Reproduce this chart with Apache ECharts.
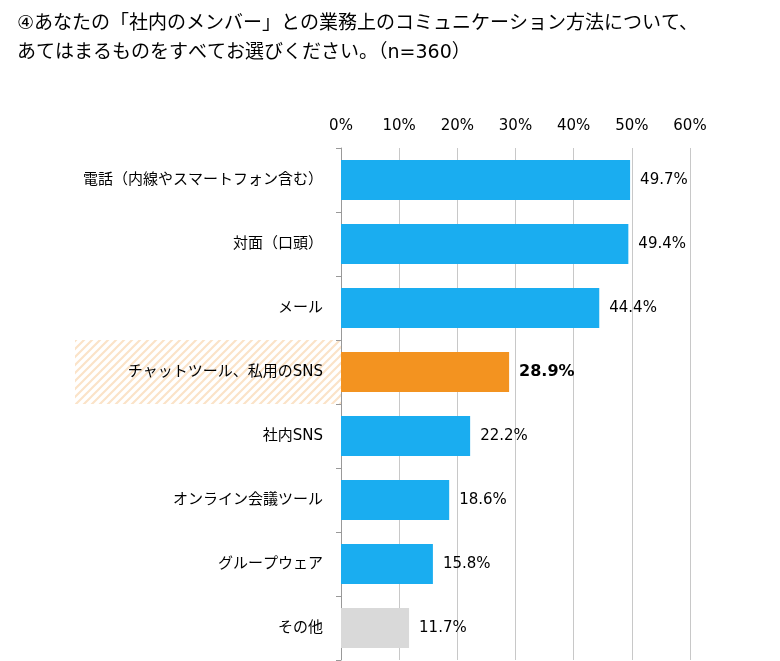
<!DOCTYPE html>
<html><head><meta charset="utf-8">
<script src="https://cdn.jsdelivr.net/npm/echarts@6/dist/echarts.min.js"></script>
<style>body{margin:0}#c{width:780px;height:661px}</style></head>
<body><div id="c"></div>
<script>
const titleText = '④あなたの「社内のメンバー」との業務上のコミュニケーション方法について、\nあてはまるものをすべてお選びください。（n=360）'
const categories = ['電話（内線やスマートフォン含む）', '対面（口頭）', 'メール', 'チャットツール、私用のSNS', '社内SNS', 'オンライン会議ツール', 'グループウェア', 'その他']
const values = [49.7, 49.4, 44.4, 28.9, 22.2, 18.6, 15.8, 11.7]
const highlight = 3
const font = '"DejaVu Sans", "Noto Sans CJK JP", sans-serif'

function barColor (i) {
  if (i === highlight) return '#f39320'
  if (i === categories.length - 1) return '#d9d9d9'
  return '#1aadf0'
}

// hatch pattern
const pc = document.createElement('canvas')
pc.width = 8; pc.height = 8
const px = pc.getContext('2d')
px.fillStyle = '#fff'; px.fillRect(0, 0, 8, 8)
px.strokeStyle = '#fbe3c8'; px.lineWidth = 2.2
px.beginPath()
px.moveTo(-2, 10); px.lineTo(10, -2)
px.moveTo(-2, 2); px.lineTo(2, -2)
px.moveTo(6, 10); px.lineTo(10, 6)
px.stroke()

const chart = echarts.init(document.getElementById('c'))
chart.setOption({
  animation: false,
  title: {
    text: titleText, left: 12, top: 5,
    textStyle: { fontFamily: font, fontSize: 19, fontWeight: 'normal', color: '#000', lineHeight: 29 }
  },
  grid: { left: 341, right: 90, top: 148, bottom: 1 },
  xAxis: {
    type: 'value', position: 'top', min: 0, max: 60, interval: 10,
    axisLabel: { formatter: '{value}%', fontFamily: font, fontSize: 15, color: '#000', margin: 14 },
    splitLine: { lineStyle: { color: '#c8c8c8' } },
    axisLine: { show: false }, axisTick: { show: false }
  },
  yAxis: {
    type: 'category', inverse: true, data: categories,
    axisLine: { lineStyle: { color: '#999' } },
    axisTick: { show: true, length: 5, lineStyle: { color: '#999' } },
    axisLabel: {
      fontFamily: font, fontSize: 15, color: '#000', margin: 18
    }
  },
  series: [{
    type: 'bar', barWidth: 40,
    data: values.map((v, i) => ({ value: v, itemStyle: { color: barColor(i) } })),
    label: {
      show: true, position: 'right', distance: 10,
      fontFamily: font, fontSize: 15, color: '#000',
      formatter: p => p.value.toFixed(1) + '%'
    }
  }]
})

// emphasise highlighted label
const opt = chart.getOption()
const d = opt.series[0].data
d[highlight].label = { fontWeight: 'bold', fontSize: 16 }
const y0 = chart.convertToPixel({ yAxisIndex: 0 }, categories[highlight])
const band = chart.convertToPixel({ yAxisIndex: 0 }, categories[1]) - chart.convertToPixel({ yAxisIndex: 0 }, categories[0])
chart.setOption({
  series: [{ data: d }],
  graphic: [{
    type: 'rect', z: -10, silent: true,
    shape: { x: 75, y: y0 - band / 2, width: 341 - 75, height: band },
    style: { fill: { image: pc, repeat: 'repeat' } }
  }]
})
</script></body></html>
